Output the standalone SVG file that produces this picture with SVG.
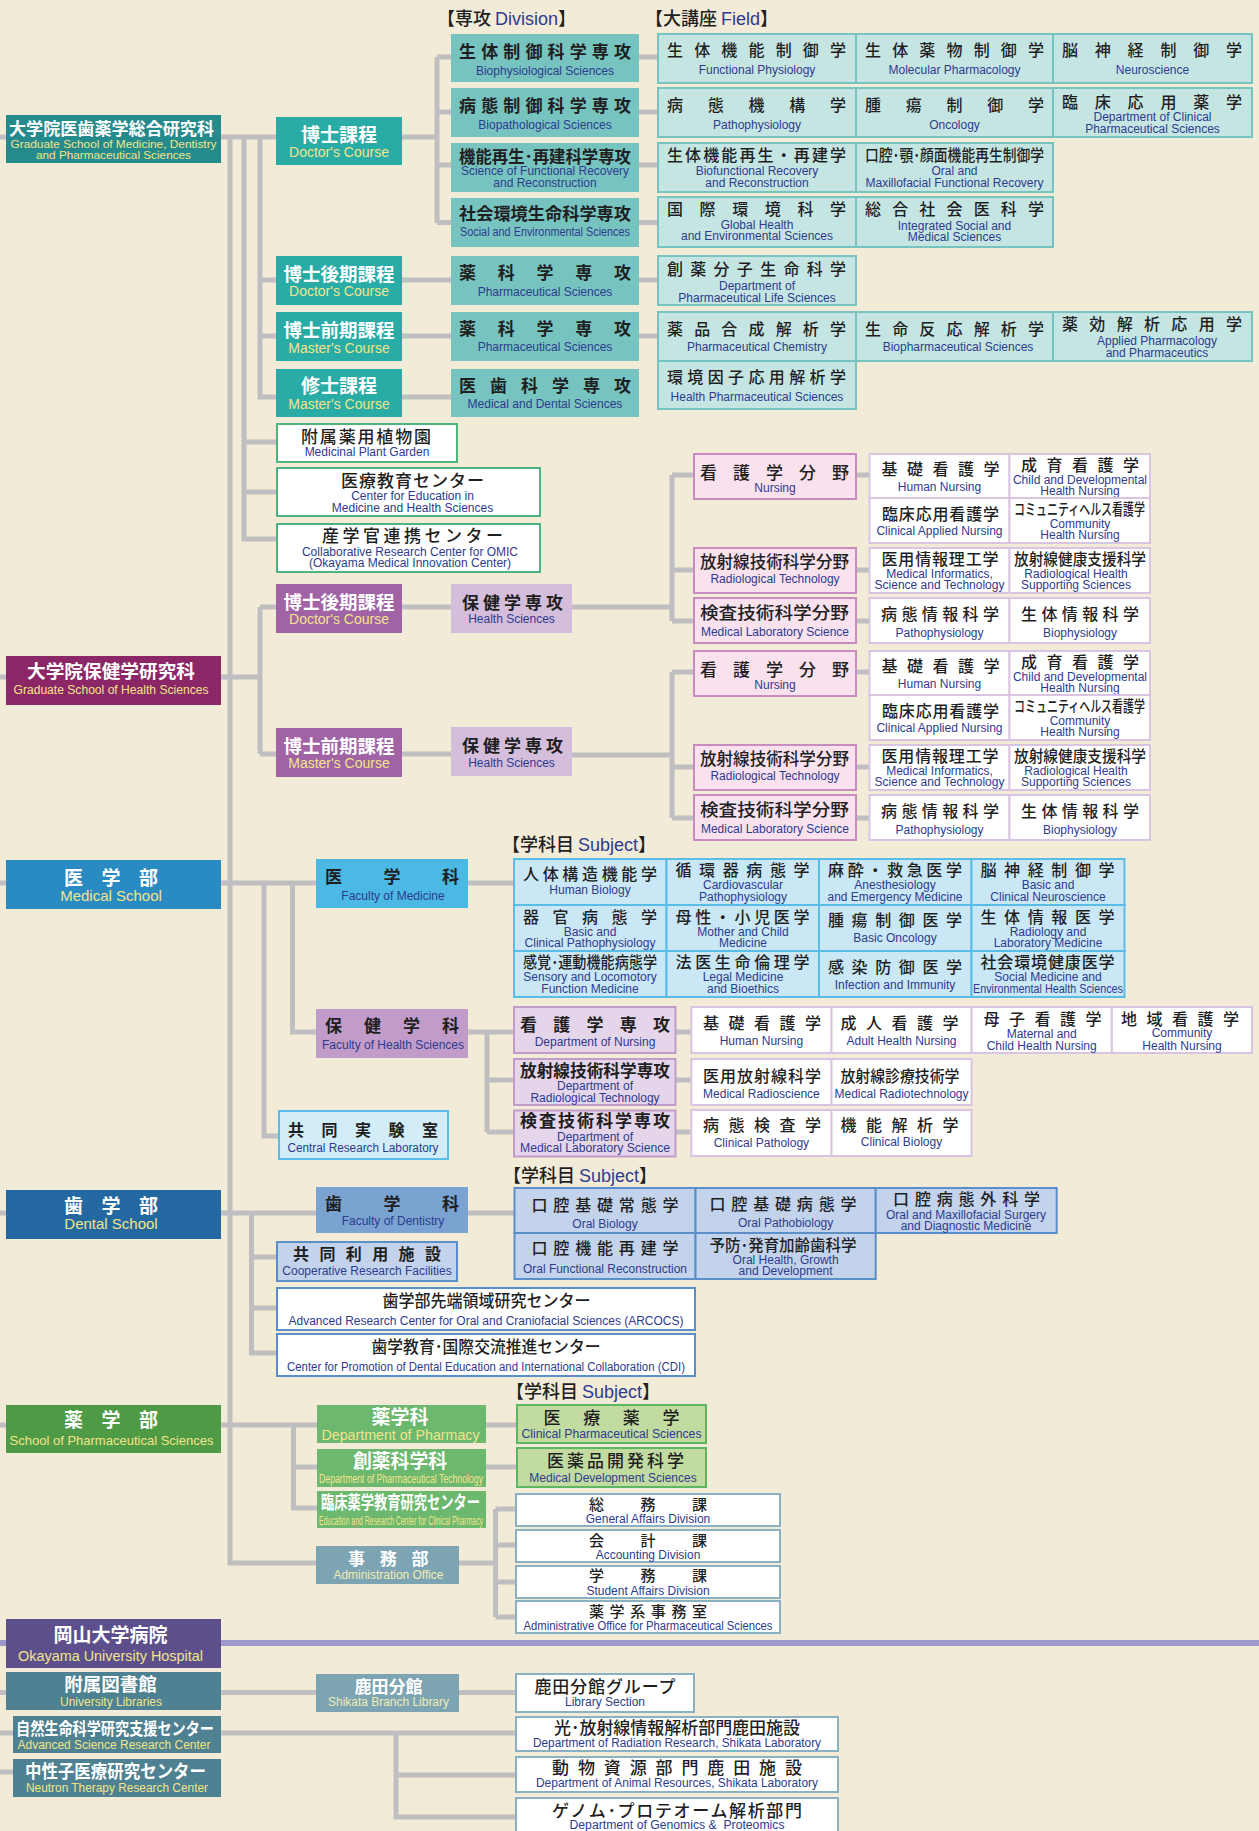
<svg xmlns="http://www.w3.org/2000/svg" width="1259" height="1831" viewBox="0 0 1259 1831">
<style>
.c{fill:none;stroke:#BFBFC1;stroke-width:5}
.jw{font-family:"Noto Sans CJK JP","Noto Sans CJK SC",sans-serif;fill:#fff;font-weight:700}
.jb{font-family:"Noto Sans CJK JP","Noto Sans CJK SC",sans-serif;fill:#1f1f1f;font-weight:700}
.jd{font-family:"Noto Sans CJK JP","Noto Sans CJK SC",sans-serif;fill:#1f1f1f;font-weight:500}
.ey{font-family:"Liberation Sans",Arial,sans-serif;fill:#F2E58A;text-anchor:middle}
.ep{font-family:"Liberation Sans",Arial,sans-serif;fill:#F1EDB4;text-anchor:middle}
.en{font-family:"Liberation Sans",Arial,sans-serif;fill:#2D3B8E;text-anchor:middle;font-size:12px}
.E{font-family:"Liberation Sans",Arial,sans-serif;fill:#2D3B8E}
.m{text-anchor:middle}
.fc{fill:#C5E5E3;stroke:#77C3C0;stroke-width:2}
.dv{fill:#77C3C0}
.gw{fill:#fff;stroke:#4DB57D;stroke-width:2}
.np{fill:#F9E1EE;stroke:#C98CBE;stroke-width:2}
.nw{fill:#fff;stroke:#D9C5E1;stroke-width:2}
.ms{fill:#C9E7F5;stroke:#5ABDE7;stroke-width:2}
.hd{fill:#E5D5EB;stroke:#C29CC9;stroke-width:2}
.ds{fill:#C3D3EB;stroke:#5B8FC9;stroke-width:2}
.dw{fill:#fff;stroke:#5B8FC9;stroke-width:2}
.ps{fill:#C1DBA1;stroke:#5DB760;stroke-width:2}
.aw{fill:#fff;stroke:#8AB0C4;stroke-width:2}
</style>
<rect x="0" y="0" width="1259" height="1831" fill="#F2EBD8"/>

<g id="connectors">
<path class="c" d="M0 137H437M437 57V223M437 57H451M437 112H451M437 165H451M437 222.5H451"/>
<path class="c" d="M638 57H658M638 112H658M638 165H658M638 222.5H658M638 280H658M638 336H658"/>
<path class="c" d="M230 137V1563H316"/>
<path class="c" d="M244 137V539H277M244 442H277M244 492H277"/>
<path class="c" d="M260 137V397H451M260 280H451M260 336H451"/>
<path class="c" d="M0 677H260M260 607V754M260 607H451M260 754H451"/>
<path class="c" d="M572 607H672M672 475V621M672 475H694M672 570H694M672 621H694M856 475H869M856 570H869M856 621H869"/>
<path class="c" d="M572 755H672M672 672V818M672 672H694M672 767H694M672 818H694M856 672H869M856 767H869M856 818H869"/>
<path class="c" d="M0 883H514M264 883V1136H279M292.5 883V1032H316"/>
<path class="c" d="M468 1032H514M487 1032V1132M487 1080H514M487 1132H514M675 1032H691M675 1080H691M675 1132H691"/>
<path class="c" d="M0 1213H514M251.5 1213V1353H277M251.5 1257H277M251.5 1308H277"/>
<path class="c" d="M0 1425H517M293.5 1425V1508H317M293.5 1467H517"/>
<path class="c" d="M459 1563H495.5M495.5 1509V1617M495.5 1509H516M495.5 1545H516M495.5 1582H516M495.5 1617H516"/>
<path class="c" d="M0 1692.5H516M0 1733H516M396 1733V1817H516M396 1775H516M0 1772H13"/>
<path d="M0 1643H1259" fill="none" stroke="#9E98CA" stroke-width="6"/>
</g>

<g id="headers">
<text class="jd" x="437" y="25" font-size="18">【専攻 <tspan class="E">Division</tspan>】</text>
<text class="jd" x="645" y="25" font-size="18">【大講座 <tspan class="E">Field</tspan>】</text>
<text class="jd" x="502" y="851" font-size="18">【学科目 <tspan class="E">Subject</tspan>】</text>
<text class="jd" x="503" y="1182" font-size="18">【学科目 <tspan class="E">Subject</tspan>】</text>
<text class="jd" x="506" y="1398" font-size="18">【学科目 <tspan class="E">Subject</tspan>】</text>
</g>

<g id="gs-mdp"><rect x="6" y="115" width="215" height="48" fill="#258A8C"/>
<text class="jw" x="9" y="134.5" font-size="17" textLength="205" lengthAdjust="spacingAndGlyphs">大学院医歯薬学総合研究科</text>
<text class="ey" x="113.5" y="148" font-size="11.5" textLength="206" lengthAdjust="spacingAndGlyphs">Graduate School of Medicine, Dentistry</text>
<text class="ey" x="113.5" y="159" font-size="11.5" textLength="155" lengthAdjust="spacingAndGlyphs">and Pharmaceutical Sciences</text></g>

<g id="course-doc"><rect x="276" y="117" width="126" height="48" fill="#29ABA6"/>
<text class="jw m" x="339" y="141.5" font-size="19">博士課程</text>
<text class="ey" x="339" y="157" font-size="14">Doctor's Course</text></g>
<g id="course-doc2"><rect x="276" y="256" width="126" height="49" fill="#29ABA6"/>
<text class="jw m" x="339" y="280.5" font-size="18.5">博士後期課程</text>
<text class="ey" x="339" y="296" font-size="14">Doctor's Course</text></g>
<g id="course-mas1"><rect x="276" y="312" width="126" height="49" fill="#29ABA6"/>
<text class="jw m" x="339" y="336.5" font-size="18.5">博士前期課程</text>
<text class="ey" x="339" y="352.5" font-size="14">Master's Course</text></g>
<g id="course-mas2"><rect x="276" y="369" width="126" height="48" fill="#29ABA6"/>
<text class="jw m" x="339" y="393" font-size="19">修士課程</text>
<text class="ey" x="339" y="408.5" font-size="14">Master's Course</text></g>

<g id="div1"><rect class="dv" x="451" y="34" width="188" height="48"/>
<text class="jb" x="459" y="57.5" font-size="17" textLength="172" lengthAdjust="spacing">生体制御科学専攻</text>
<text class="en" x="545" y="74.5">Biophysiological Sciences</text></g>
<g id="div2"><rect class="dv" x="451" y="88" width="188" height="49"/>
<text class="jb" x="459" y="111.5" font-size="17" textLength="172" lengthAdjust="spacing">病態制御科学専攻</text>
<text class="en" x="545" y="129">Biopathological Sciences</text></g>
<g id="div3"><rect class="dv" x="451" y="143" width="188" height="49"/>
<text class="jb" x="459" y="162.5" font-size="17" textLength="172" lengthAdjust="spacingAndGlyphs">機能再生･再建科学専攻</text>
<text class="en" x="545" y="175" textLength="168" lengthAdjust="spacingAndGlyphs">Science of Functional Recovery</text>
<text class="en" x="545" y="186.7">and Reconstruction</text></g>
<g id="div4"><rect class="dv" x="451" y="198" width="188" height="49"/>
<text class="jb" x="459" y="219.5" font-size="17" textLength="172" lengthAdjust="spacingAndGlyphs">社会環境生命科学専攻</text>
<text class="en" x="545" y="236" textLength="170" lengthAdjust="spacingAndGlyphs">Social and Environmental Sciences</text></g>
<g id="div5"><rect class="dv" x="451" y="256" width="188" height="49"/>
<text class="jb" x="459" y="279" font-size="17" textLength="172" lengthAdjust="spacing">薬科学専攻</text>
<text class="en" x="545" y="296">Pharmaceutical Sciences</text></g>
<g id="div6"><rect class="dv" x="451" y="312" width="188" height="49"/>
<text class="jb" x="459" y="335" font-size="17" textLength="172" lengthAdjust="spacing">薬科学専攻</text>
<text class="en" x="545" y="351">Pharmaceutical Sciences</text></g>
<g id="div7"><rect class="dv" x="451" y="369" width="188" height="48"/>
<text class="jb" x="459" y="391.5" font-size="17" textLength="172" lengthAdjust="spacing">医歯科学専攻</text>
<text class="en" x="545" y="408">Medical and Dental Sciences</text></g>

<g id="f1a"><rect class="fc" x="658" y="34" width="198" height="49"/>
<text class="jd" x="667" y="56" font-size="16" textLength="179" lengthAdjust="spacing">生体機能制御学</text>
<text class="en" x="757" y="74">Functional Physiology</text></g>
<g id="f1b"><rect class="fc" x="856" y="34" width="197" height="49"/>
<text class="jd" x="865" y="56" font-size="16" textLength="179" lengthAdjust="spacing">生体薬物制御学</text>
<text class="en" x="954.5" y="74">Molecular Pharmacology</text></g>
<g id="f1c"><rect class="fc" x="1053" y="34" width="199" height="49"/>
<text class="jd" x="1062" y="56" font-size="16" textLength="180" lengthAdjust="spacing">脳神経制御学</text>
<text class="en" x="1152.5" y="74">Neuroscience</text></g>
<g id="f2a"><rect class="fc" x="658" y="88" width="198" height="49"/>
<text class="jd" x="667" y="111" font-size="16" textLength="179" lengthAdjust="spacing">病態機構学</text>
<text class="en" x="757" y="129">Pathophysiology</text></g>
<g id="f2b"><rect class="fc" x="856" y="88" width="197" height="49"/>
<text class="jd" x="865" y="111" font-size="16" textLength="179" lengthAdjust="spacing">腫瘍制御学</text>
<text class="en" x="954.5" y="129">Oncology</text></g>
<g id="f2c"><rect class="fc" x="1053" y="88" width="199" height="49"/>
<text class="jd" x="1062" y="107.5" font-size="16" textLength="180" lengthAdjust="spacing">臨床応用薬学</text>
<text class="en" x="1152.5" y="121">Department of Clinical</text>
<text class="en" x="1152.5" y="132.5">Pharmaceutical Sciences</text></g>
<g id="f3a"><rect class="fc" x="658" y="143" width="198" height="49"/>
<text class="jd" x="667" y="161" font-size="16" textLength="179" lengthAdjust="spacing">生体機能再生・再建学</text>
<text class="en" x="757" y="175">Biofunctional Recovery</text>
<text class="en" x="757" y="186.7">and Reconstruction</text></g>
<g id="f3b"><rect class="fc" x="856" y="143" width="197" height="49"/>
<text class="jd" x="865" y="161" font-size="16" textLength="179" lengthAdjust="spacingAndGlyphs">口腔･顎･顔面機能再生制御学</text>
<text class="en" x="954.5" y="175">Oral and</text>
<text class="en" x="954.5" y="186.7" textLength="178" lengthAdjust="spacingAndGlyphs">Maxillofacial Functional Recovery</text></g>
<g id="f4a"><rect class="fc" x="658" y="197" width="198" height="50"/>
<text class="jd" x="667" y="215" font-size="16" textLength="179" lengthAdjust="spacing">国際環境科学</text>
<text class="en" x="757" y="229">Global Health</text>
<text class="en" x="757" y="240">and Environmental Sciences</text></g>
<g id="f4b"><rect class="fc" x="856" y="197" width="197" height="50"/>
<text class="jd" x="865" y="215" font-size="16" textLength="179" lengthAdjust="spacing">総合社会医科学</text>
<text class="en" x="954.5" y="229.7">Integrated Social and</text>
<text class="en" x="954.5" y="240.7">Medical Sciences</text></g>
<g id="f5a"><rect class="fc" x="658" y="256" width="198" height="49"/>
<text class="jd" x="667" y="275" font-size="16" textLength="179" lengthAdjust="spacing">創薬分子生命科学</text>
<text class="en" x="757" y="290">Department of</text>
<text class="en" x="757" y="301.7">Pharmaceutical Life Sciences</text></g>
<g id="f6a"><rect class="fc" x="658" y="312" width="198" height="49"/>
<text class="jd" x="667" y="334.5" font-size="16" textLength="179" lengthAdjust="spacing">薬品合成解析学</text>
<text class="en" x="757" y="351">Pharmaceutical Chemistry</text></g>
<g id="f6b"><rect class="fc" x="856" y="312" width="197" height="49"/>
<text class="jd" x="865" y="334.5" font-size="16" textLength="179" lengthAdjust="spacing">生命反応解析学</text>
<text class="en" x="958" y="351">Biopharmaceutical Sciences</text></g>
<g id="f6c"><rect class="fc" x="1053" y="312" width="199" height="49"/>
<text class="jd" x="1062" y="330" font-size="16" textLength="180" lengthAdjust="spacing">薬効解析応用学</text>
<text class="en" x="1157" y="345">Applied Pharmacology</text>
<text class="en" x="1157" y="356.7">and Pharmaceutics</text></g>
<g id="f7a"><rect class="fc" x="658" y="361" width="198" height="48"/>
<text class="jd" x="667" y="383" font-size="16" textLength="179" lengthAdjust="spacing">環境因子応用解析学</text>
<text class="en" x="757" y="401">Health Pharmaceutical Sciences</text></g>

<g id="garden"><rect class="gw" x="277" y="424" width="180" height="38"/>
<text class="jd" x="301" y="442.5" font-size="17" textLength="130" lengthAdjust="spacing">附属薬用植物園</text>
<text class="en" x="367" y="456">Medicinal Plant Garden</text></g>
<g id="cemhs"><rect class="gw" x="277" y="468" width="263" height="48"/>
<text class="jd" x="341" y="486.5" font-size="17" textLength="143" lengthAdjust="spacing">医療教育センター</text>
<text class="en" x="412.5" y="500">Center for Education in</text>
<text class="en" x="412.5" y="512">Medicine and Health Sciences</text></g>
<g id="omic"><rect class="gw" x="277" y="524" width="263" height="48"/>
<text class="jd" x="322" y="542" font-size="17" textLength="181" lengthAdjust="spacing">産学官連携センター</text>
<text class="en" x="410" y="555.5">Collaborative Research Center for OMIC</text>
<text class="en" x="410" y="567">(Okayama Medical Innovation Center)</text></g>

<g id="gs-hs"><rect x="6" y="656" width="215" height="49" fill="#8B2767"/>
<text class="jw" x="27" y="678" font-size="18" textLength="168" lengthAdjust="spacingAndGlyphs">大学院保健学研究科</text>
<text class="ey" x="111" y="694" font-size="12" textLength="195" lengthAdjust="spacingAndGlyphs">Graduate School of Health Sciences</text></g>
<g id="hs-doc"><rect x="276" y="584" width="126" height="49" fill="#A063A4"/>
<text class="jw m" x="339" y="609" font-size="18.5">博士後期課程</text>
<text class="ey" x="339" y="624" font-size="14">Doctor's Course</text></g>
<g id="hs-mas"><rect x="276" y="728" width="126" height="49" fill="#A063A4"/>
<text class="jw m" x="339" y="753" font-size="18.5">博士前期課程</text>
<text class="ey" x="339" y="768" font-size="14">Master's Course</text></g>
<g id="hs-div1"><rect x="451" y="584" width="121" height="49" fill="#D4BEDC"/>
<text class="jb" x="462" y="608.5" font-size="17" textLength="101" lengthAdjust="spacing">保健学専攻</text>
<text class="en" x="511.5" y="623">Health Sciences</text></g>
<g id="hs-div2"><rect x="451" y="727" width="121" height="49" fill="#D4BEDC"/>
<text class="jb" x="462" y="752" font-size="17" textLength="101" lengthAdjust="spacing">保健学専攻</text>
<text class="en" x="511.5" y="766.5">Health Sciences</text></g>

<g id="nf-d-nursing"><rect class="np" x="694" y="454" width="162" height="45"/>
<text class="jd" x="700" y="478.5" font-size="17" textLength="149" lengthAdjust="spacing">看護学分野</text>
<text class="en" x="775" y="491.5">Nursing</text></g>
<g id="nf-d-rad"><rect class="np" x="694" y="548" width="162" height="45"/>
<text class="jd" x="700" y="568" font-size="17" textLength="149" lengthAdjust="spacingAndGlyphs">放射線技術科学分野</text>
<text class="en" x="775" y="583">Radiological Technology</text></g>
<g id="nf-d-lab"><rect class="np" x="694" y="598" width="162" height="45"/>
<text class="jd" x="700" y="619" font-size="17" textLength="149" lengthAdjust="spacingAndGlyphs">検査技術科学分野</text>
<text class="en" x="775" y="635.5">Medical Laboratory Science</text></g>
<g id="ns-d-1"><rect class="nw" x="869.5" y="454" width="140" height="44"/>
<text class="jd" x="881.5" y="475" font-size="16" textLength="118" lengthAdjust="spacing">基礎看護学</text>
<text class="en" x="939.5" y="491">Human Nursing</text></g>
<g id="ns-d-2"><rect class="nw" x="1009.5" y="454" width="140.5" height="44"/>
<text class="jd" x="1021" y="470.5" font-size="16" textLength="118" lengthAdjust="spacing">成育看護学</text>
<text class="en" x="1080" y="484">Child and Developmental</text>
<text class="en" x="1080" y="494.7">Health Nursing</text></g>
<g id="ns-d-3"><rect class="nw" x="869.5" y="498" width="140" height="45"/>
<text class="jd" x="882" y="520" font-size="16" textLength="117" lengthAdjust="spacing">臨床応用看護学</text>
<text class="en" x="939.5" y="534.7">Clinical Applied Nursing</text></g>
<g id="ns-d-4"><rect class="nw" x="1009.5" y="498" width="140.5" height="45"/>
<text class="jd" x="1014" y="514.5" font-size="15.5" textLength="131" lengthAdjust="spacingAndGlyphs">コミュニティヘルス看護学</text>
<text class="en" x="1080" y="528">Community</text>
<text class="en" x="1080" y="539.3">Health Nursing</text></g>
<g id="ns-d-5"><rect class="nw" x="869.5" y="548" width="140" height="45"/>
<text class="jd" x="881.5" y="565" font-size="16" textLength="117" lengthAdjust="spacing">医用情報理工学</text>
<text class="en" x="939.5" y="577.5">Medical Informatics,</text>
<text class="en" x="939.5" y="588.5">Science and Technology</text></g>
<g id="ns-d-6"><rect class="nw" x="1009.5" y="548" width="140.5" height="45"/>
<text class="jd" x="1014" y="565" font-size="16" textLength="132" lengthAdjust="spacingAndGlyphs">放射線健康支援科学</text>
<text class="en" x="1076" y="577.5">Radiological Health</text>
<text class="en" x="1076" y="588.5">Supporting Sciences</text></g>
<g id="ns-d-7"><rect class="nw" x="869.5" y="598" width="140" height="45"/>
<text class="jd" x="881" y="619.5" font-size="16" textLength="118" lengthAdjust="spacing">病態情報科学</text>
<text class="en" x="939.5" y="636.5">Pathophysiology</text></g>
<g id="ns-d-8"><rect class="nw" x="1009.5" y="598" width="140.5" height="45"/>
<text class="jd" x="1021" y="619.5" font-size="16" textLength="118" lengthAdjust="spacing">生体情報科学</text>
<text class="en" x="1080" y="636.5">Biophysiology</text></g>

<g id="nf-m-nursing" transform="translate(0,197)"><rect class="np" x="694" y="454" width="162" height="45"/>
<text class="jd" x="700" y="478.5" font-size="17" textLength="149" lengthAdjust="spacing">看護学分野</text>
<text class="en" x="775" y="491.5">Nursing</text></g>
<g id="nf-m-rad" transform="translate(0,197)"><rect class="np" x="694" y="548" width="162" height="45"/>
<text class="jd" x="700" y="568" font-size="17" textLength="149" lengthAdjust="spacingAndGlyphs">放射線技術科学分野</text>
<text class="en" x="775" y="583">Radiological Technology</text></g>
<g id="nf-m-lab" transform="translate(0,197)"><rect class="np" x="694" y="598" width="162" height="45"/>
<text class="jd" x="700" y="619" font-size="17" textLength="149" lengthAdjust="spacingAndGlyphs">検査技術科学分野</text>
<text class="en" x="775" y="635.5">Medical Laboratory Science</text></g>
<g id="ns-m-1" transform="translate(0,197)"><rect class="nw" x="869.5" y="454" width="140" height="44"/>
<text class="jd" x="881.5" y="475" font-size="16" textLength="118" lengthAdjust="spacing">基礎看護学</text>
<text class="en" x="939.5" y="491">Human Nursing</text></g>
<g id="ns-m-2" transform="translate(0,197)"><rect class="nw" x="1009.5" y="454" width="140.5" height="44"/>
<text class="jd" x="1021" y="470.5" font-size="16" textLength="118" lengthAdjust="spacing">成育看護学</text>
<text class="en" x="1080" y="484">Child and Developmental</text>
<text class="en" x="1080" y="494.7">Health Nursing</text></g>
<g id="ns-m-3" transform="translate(0,197)"><rect class="nw" x="869.5" y="498" width="140" height="45"/>
<text class="jd" x="882" y="520" font-size="16" textLength="117" lengthAdjust="spacing">臨床応用看護学</text>
<text class="en" x="939.5" y="534.7">Clinical Applied Nursing</text></g>
<g id="ns-m-4" transform="translate(0,197)"><rect class="nw" x="1009.5" y="498" width="140.5" height="45"/>
<text class="jd" x="1014" y="514.5" font-size="15.5" textLength="131" lengthAdjust="spacingAndGlyphs">コミュニティヘルス看護学</text>
<text class="en" x="1080" y="528">Community</text>
<text class="en" x="1080" y="539.3">Health Nursing</text></g>
<g id="ns-m-5" transform="translate(0,197)"><rect class="nw" x="869.5" y="548" width="140" height="45"/>
<text class="jd" x="881.5" y="565" font-size="16" textLength="117" lengthAdjust="spacing">医用情報理工学</text>
<text class="en" x="939.5" y="577.5">Medical Informatics,</text>
<text class="en" x="939.5" y="588.5">Science and Technology</text></g>
<g id="ns-m-6" transform="translate(0,197)"><rect class="nw" x="1009.5" y="548" width="140.5" height="45"/>
<text class="jd" x="1014" y="565" font-size="16" textLength="132" lengthAdjust="spacingAndGlyphs">放射線健康支援科学</text>
<text class="en" x="1076" y="577.5">Radiological Health</text>
<text class="en" x="1076" y="588.5">Supporting Sciences</text></g>
<g id="ns-m-7" transform="translate(0,197)"><rect class="nw" x="869.5" y="598" width="140" height="45"/>
<text class="jd" x="881" y="619.5" font-size="16" textLength="118" lengthAdjust="spacing">病態情報科学</text>
<text class="en" x="939.5" y="636.5">Pathophysiology</text></g>
<g id="ns-m-8" transform="translate(0,197)"><rect class="nw" x="1009.5" y="598" width="140.5" height="45"/>
<text class="jd" x="1021" y="619.5" font-size="16" textLength="118" lengthAdjust="spacing">生体情報科学</text>
<text class="en" x="1080" y="636.5">Biophysiology</text></g>

<g id="med-school"><rect x="6" y="860" width="215" height="49" fill="#2A8BC3"/>
<text class="jw" x="64" y="885" font-size="19" textLength="94" lengthAdjust="spacing">医学部</text>
<text class="ey" x="111" y="901" font-size="15">Medical School</text></g>
<g id="fac-med"><rect x="316" y="859" width="152" height="49" fill="#4BB9E3"/>
<text class="jb" x="325" y="882.5" font-size="17" textLength="134" lengthAdjust="spacing">医学科</text>
<text class="en" x="393" y="899.5">Faculty of Medicine</text></g>
<g id="fac-hs"><rect x="316" y="1009" width="152" height="49" fill="#C29CC9"/>
<text class="jb" x="325" y="1031.5" font-size="17" textLength="134" lengthAdjust="spacing">保健学科</text>
<text class="en" x="393" y="1048.5">Faculty of Health Sciences</text></g>
<g id="crl"><rect x="279" y="1111" width="169" height="48" fill="#D2ECF8" stroke="#5ABDE7" stroke-width="2"/>
<text class="jb" x="288" y="1135.5" font-size="16" textLength="150" lengthAdjust="spacing">共同実験室</text>
<text class="en" x="363" y="1151.5" textLength="151" lengthAdjust="spacingAndGlyphs">Central Research Laboratory</text></g>

<g id="ms-1"><rect class="ms" x="514" y="859" width="152.5" height="46"/>
<text class="jd" x="523" y="880" font-size="16" textLength="134" lengthAdjust="spacing">人体構造機能学</text>
<text class="en" x="590" y="894">Human Biology</text></g>
<g id="ms-2"><rect class="ms" x="666.5" y="859" width="152.5" height="46"/>
<text class="jd" x="675.5" y="876" font-size="16" textLength="134" lengthAdjust="spacing">循環器病態学</text>
<text class="en" x="743" y="889">Cardiovascular</text>
<text class="en" x="743" y="901">Pathophysiology</text></g>
<g id="ms-3"><rect class="ms" x="819" y="859" width="152.5" height="46"/>
<text class="jd" x="828" y="876" font-size="16" textLength="134" lengthAdjust="spacing">麻酔・救急医学</text>
<text class="en" x="895" y="889">Anesthesiology</text>
<text class="en" x="895" y="901" textLength="135" lengthAdjust="spacingAndGlyphs">and Emergency Medicine</text></g>
<g id="ms-4"><rect class="ms" x="971.5" y="859" width="153" height="46"/>
<text class="jd" x="980.5" y="876" font-size="16" textLength="134" lengthAdjust="spacing">脳神経制御学</text>
<text class="en" x="1048" y="889" font-size="11.5">Basic and</text>
<text class="en" x="1048" y="901" font-size="11.5">Clinical Neuroscience</text></g>
<g id="ms-5"><rect class="ms" x="514" y="905" width="152.5" height="46"/>
<text class="jd" x="523" y="922.7" font-size="16" textLength="134" lengthAdjust="spacing">器官病態学</text>
<text class="en" x="590" y="935.7">Basic and</text>
<text class="en" x="590" y="947.3" textLength="131" lengthAdjust="spacingAndGlyphs">Clinical Pathophysiology</text></g>
<g id="ms-6"><rect class="ms" x="666.5" y="905" width="152.5" height="46"/>
<text class="jd" x="675.5" y="922.7" font-size="16" textLength="134" lengthAdjust="spacing">母性・小児医学</text>
<text class="en" x="743" y="935.7">Mother and Child</text>
<text class="en" x="743" y="947.3">Medicine</text></g>
<g id="ms-7"><rect class="ms" x="819" y="905" width="152.5" height="46"/>
<text class="jd" x="828" y="926" font-size="16" textLength="134" lengthAdjust="spacing">腫瘍制御医学</text>
<text class="en" x="895" y="941.7">Basic Oncology</text></g>
<g id="ms-8"><rect class="ms" x="971.5" y="905" width="153" height="46"/>
<text class="jd" x="980.5" y="922.7" font-size="16" textLength="134" lengthAdjust="spacing">生体情報医学</text>
<text class="en" x="1048" y="935.7">Radiology and</text>
<text class="en" x="1048" y="947.3">Laboratory Medicine</text></g>
<g id="ms-9"><rect class="ms" x="514" y="951" width="152.5" height="46"/>
<text class="jd" x="523" y="967.7" font-size="16" textLength="134" lengthAdjust="spacingAndGlyphs">感覚･運動機能病態学</text>
<text class="en" x="590" y="980.7">Sensory and Locomotory</text>
<text class="en" x="590" y="993">Function Medicine</text></g>
<g id="ms-10"><rect class="ms" x="666.5" y="951" width="152.5" height="46"/>
<text class="jd" x="675.5" y="967.7" font-size="16" textLength="134" lengthAdjust="spacing">法医生命倫理学</text>
<text class="en" x="743" y="980.7">Legal Medicine</text>
<text class="en" x="743" y="993">and Bioethics</text></g>
<g id="ms-11"><rect class="ms" x="819" y="951" width="152.5" height="46"/>
<text class="jd" x="828" y="972.7" font-size="16" textLength="134" lengthAdjust="spacing">感染防御医学</text>
<text class="en" x="895" y="989">Infection and Immunity</text></g>
<g id="ms-12"><rect class="ms" x="971.5" y="951" width="153" height="46"/>
<text class="jd" x="980.5" y="967.7" font-size="16" textLength="134" lengthAdjust="spacing">社会環境健康医学</text>
<text class="en" x="1048" y="980.7">Social Medicine and</text>
<text class="en" x="1048" y="993" textLength="150" lengthAdjust="spacingAndGlyphs">Environmental Health Sciences</text></g>

<g id="hd-1"><rect class="hd" x="514" y="1007" width="161.5" height="46"/>
<text class="jb" x="520" y="1031" font-size="17" textLength="150" lengthAdjust="spacing">看護学専攻</text>
<text class="en" x="595" y="1046">Department of Nursing</text></g>
<g id="hd-2"><rect class="hd" x="514" y="1059" width="161.5" height="46"/>
<text class="jb" x="520" y="1076.7" font-size="17" textLength="150" lengthAdjust="spacingAndGlyphs">放射線技術科学専攻</text>
<text class="en" x="595" y="1090">Department of</text>
<text class="en" x="595" y="1101.7">Radiological Technology</text></g>
<g id="hd-3"><rect class="hd" x="514" y="1110.5" width="161.5" height="46"/>
<text class="jb" x="520" y="1127" font-size="17" textLength="150" lengthAdjust="spacing">検査技術科学専攻</text>
<text class="en" x="595" y="1140.7">Department of</text>
<text class="en" x="595" y="1151.7" textLength="150" lengthAdjust="spacingAndGlyphs">Medical Laboratory Science</text></g>

<g id="hs-1"><rect class="nw" x="691.3" y="1007" width="140.2" height="46"/>
<text class="jd" x="703" y="1028.7" font-size="16" textLength="118" lengthAdjust="spacing">基礎看護学</text>
<text class="en" x="761.4" y="1045">Human Nursing</text></g>
<g id="hs-2"><rect class="nw" x="831.5" y="1007" width="140.1" height="46"/>
<text class="jd" x="840.5" y="1028.7" font-size="16" textLength="118" lengthAdjust="spacing">成人看護学</text>
<text class="en" x="901.5" y="1045">Adult Health Nursing</text></g>
<g id="hs-3"><rect class="nw" x="971.6" y="1007" width="140.2" height="46"/>
<text class="jd" x="983.5" y="1024.7" font-size="16" textLength="118" lengthAdjust="spacing">母子看護学</text>
<text class="en" x="1041.7" y="1037.7">Maternal and</text>
<text class="en" x="1041.7" y="1050">Child Health Nursing</text></g>
<g id="hs-4"><rect class="nw" x="1111.8" y="1007" width="140.2" height="46"/>
<text class="jd" x="1121" y="1024.7" font-size="16" textLength="118" lengthAdjust="spacing">地域看護学</text>
<text class="en" x="1182" y="1037">Community</text>
<text class="en" x="1182" y="1049.5">Health Nursing</text></g>
<g id="hs-5"><rect class="nw" x="691.3" y="1059" width="140.2" height="46"/>
<text class="jd" x="703" y="1082" font-size="16" textLength="118" lengthAdjust="spacing">医用放射線科学</text>
<text class="en" x="761.4" y="1098">Medical Radioscience</text></g>
<g id="hs-6"><rect class="nw" x="831.5" y="1059" width="140.1" height="46"/>
<text class="jd" x="840.5" y="1082" font-size="16" textLength="119" lengthAdjust="spacingAndGlyphs">放射線診療技術学</text>
<text class="en" x="901.5" y="1098" textLength="134" lengthAdjust="spacingAndGlyphs">Medical Radiotechnology</text></g>
<g id="hs-7"><rect class="nw" x="691.3" y="1110" width="140.2" height="46"/>
<text class="jd" x="703" y="1130.7" font-size="16" textLength="118" lengthAdjust="spacing">病態検査学</text>
<text class="en" x="761.4" y="1146.7">Clinical Pathology</text></g>
<g id="hs-8"><rect class="nw" x="831.5" y="1110" width="140.1" height="46"/>
<text class="jd" x="840.5" y="1130.7" font-size="16" textLength="118" lengthAdjust="spacing">機能解析学</text>
<text class="en" x="901.5" y="1146">Clinical Biology</text></g>

<g id="dent-school"><rect x="6" y="1190" width="215" height="49" fill="#2468A1"/>
<text class="jw" x="64" y="1212.5" font-size="19" textLength="94" lengthAdjust="spacing">歯学部</text>
<text class="ey" x="111" y="1229" font-size="15">Dental School</text></g>
<g id="fac-dent"><rect x="316" y="1187" width="152" height="46" fill="#7AA3D1"/>
<text class="jb" x="325" y="1209.5" font-size="17" textLength="134" lengthAdjust="spacing">歯学科</text>
<text class="en" x="393" y="1224.5">Faculty of Dentistry</text></g>
<g id="crf"><rect class="ds" x="277" y="1242" width="180" height="39"/>
<text class="jb" x="293" y="1259.5" font-size="16" textLength="148" lengthAdjust="spacing">共同利用施設</text>
<text class="en" x="367" y="1275">Cooperative Research Facilities</text></g>
<g id="arcocs"><rect class="dw" x="277" y="1288" width="418" height="42"/>
<text class="jd" x="382.5" y="1307" font-size="16.5" textLength="208" lengthAdjust="spacingAndGlyphs">歯学部先端領域研究センター</text>
<text class="en" x="486" y="1324.5" font-size="11.5" textLength="395" lengthAdjust="spacingAndGlyphs">Advanced Research Center for Oral and Craniofacial Sciences (ARCOCS)</text></g>
<g id="cdi"><rect class="dw" x="277" y="1334" width="418" height="42"/>
<text class="jd" x="371.5" y="1353" font-size="16.5" textLength="229" lengthAdjust="spacingAndGlyphs">歯学教育･国際交流推進センター</text>
<text class="en" x="486" y="1370.5" font-size="11.5" textLength="398" lengthAdjust="spacingAndGlyphs">Center for Promotion of Dental Education and International Collaboration (CDI)</text></g>

<g id="dsub-1"><rect class="ds" x="514.5" y="1188" width="181" height="45"/>
<text class="jd" x="531.5" y="1211" font-size="16" textLength="147" lengthAdjust="spacing">口腔基礎常態学</text>
<text class="en" x="605" y="1228">Oral Biology</text></g>
<g id="dsub-2"><rect class="ds" x="695.5" y="1188" width="180.2" height="45"/>
<text class="jd" x="709.5" y="1209.5" font-size="16" textLength="147" lengthAdjust="spacing">口腔基礎病態学</text>
<text class="en" x="785.6" y="1226.7">Oral Pathobiology</text></g>
<g id="dsub-3"><rect class="ds" x="875.7" y="1188" width="181" height="45"/>
<text class="jd" x="893" y="1204.5" font-size="16" textLength="147" lengthAdjust="spacing">口腔病態外科学</text>
<text class="en" x="966" y="1219">Oral and Maxillofacial Surgery</text>
<text class="en" x="966" y="1230">and Diagnostic Medicine</text></g>
<g id="dsub-4"><rect class="ds" x="514.5" y="1233" width="181" height="46"/>
<text class="jd" x="531.5" y="1253.5" font-size="16" textLength="147" lengthAdjust="spacing">口腔機能再建学</text>
<text class="en" x="605" y="1273" textLength="164" lengthAdjust="spacingAndGlyphs">Oral Functional Reconstruction</text></g>
<g id="dsub-5"><rect class="ds" x="695.5" y="1233" width="180.2" height="46"/>
<text class="jd" x="709.5" y="1251" font-size="16" textLength="147" lengthAdjust="spacingAndGlyphs">予防･発育加齢歯科学</text>
<text class="en" x="785.6" y="1264">Oral Health, Growth</text>
<text class="en" x="785.6" y="1274.7">and Development</text></g>

<g id="pharm-school"><rect x="6" y="1405" width="215" height="48" fill="#4E9A45"/>
<text class="jw" x="64" y="1426.5" font-size="19" textLength="94" lengthAdjust="spacing">薬学部</text>
<text class="ey" x="111.5" y="1445" font-size="13" textLength="204" lengthAdjust="spacingAndGlyphs">School of Pharmaceutical Sciences</text></g>
<g id="dept-pharmacy"><rect x="317" y="1405" width="169" height="38" fill="#6CB86F"/>
<text class="jw m" x="400" y="1424" font-size="19">薬学科</text>
<text class="ey" x="400.5" y="1440" font-size="14" textLength="158" lengthAdjust="spacingAndGlyphs">Department of Pharmacy</text></g>
<g id="dept-pharmtech"><rect x="317" y="1449" width="169" height="38" fill="#6CB86F"/>
<text class="jw m" x="400" y="1468" font-size="19" textLength="94" lengthAdjust="spacingAndGlyphs">創薬科学科</text>
<text class="ey" x="401" y="1483" font-size="12.5" textLength="164" lengthAdjust="spacingAndGlyphs">Department of Pharmaceutical Technology</text></g>
<g id="crcp"><rect x="317" y="1491" width="169" height="37" fill="#6CB86F"/>
<text class="jw" x="321" y="1508.5" font-size="18" textLength="159" lengthAdjust="spacingAndGlyphs">臨床薬学教育研究センター</text>
<text class="ey" x="401" y="1525" font-size="12" textLength="164" lengthAdjust="spacingAndGlyphs">Education and Research Center for Clinical Pharmacy</text></g>
<g id="psub-1"><rect class="ps" x="517" y="1405" width="189" height="38"/>
<text class="jd" x="543.5" y="1423.5" font-size="17" textLength="136" lengthAdjust="spacing">医療薬学</text>
<text class="en" x="611.5" y="1438" textLength="180" lengthAdjust="spacingAndGlyphs">Clinical Pharmaceutical Sciences</text></g>
<g id="psub-2"><rect class="ps" x="517" y="1448" width="189" height="39"/>
<text class="jd" x="547" y="1467" font-size="17" textLength="137" lengthAdjust="spacing">医薬品開発科学</text>
<text class="en" x="613" y="1481.5">Medical Development Sciences</text></g>

<g id="admin"><rect x="316" y="1546" width="143" height="38" fill="#7DA4B2"/>
<text class="jw" x="348" y="1565" font-size="17" textLength="80.5" lengthAdjust="spacing">事務部</text>
<text class="ep" x="388.5" y="1578.5" font-size="12.5" textLength="110" lengthAdjust="spacingAndGlyphs">Administration Office</text></g>
<g id="adm-1"><rect class="aw" x="516" y="1494" width="264" height="32"/>
<text class="jd" x="589" y="1509.5" font-size="15" textLength="118" lengthAdjust="spacing">総務課</text>
<text class="en" x="648" y="1522.5">General Affairs Division</text></g>
<g id="adm-2"><rect class="aw" x="516" y="1530" width="264" height="32"/>
<text class="jd" x="589" y="1545.5" font-size="15" textLength="118" lengthAdjust="spacing">会計課</text>
<text class="en" x="648" y="1558.5">Accounting Division</text></g>
<g id="adm-3"><rect class="aw" x="516" y="1566" width="264" height="32"/>
<text class="jd" x="589" y="1581" font-size="15" textLength="118" lengthAdjust="spacing">学務課</text>
<text class="en" x="648" y="1595">Student Affairs Division</text></g>
<g id="adm-4"><rect class="aw" x="516" y="1601" width="264" height="32"/>
<text class="jd" x="589" y="1617" font-size="15" textLength="118" lengthAdjust="spacing">薬学系事務室</text>
<text class="en" x="648" y="1629.5" font-size="11" textLength="249" lengthAdjust="spacingAndGlyphs">Administrative Office for Pharmaceutical Sciences</text></g>

<g id="hospital"><rect x="6" y="1619" width="215" height="49" fill="#5C4F8C"/>
<text class="jw m" x="110.5" y="1642" font-size="19">岡山大学病院</text>
<text class="ey" x="110.5" y="1660.5" font-size="14.5" textLength="185" lengthAdjust="spacingAndGlyphs">Okayama University Hospital</text></g>
<g id="library"><rect x="6" y="1672" width="215" height="38" fill="#4E8191"/>
<text class="jw m" x="110.5" y="1691" font-size="18.5">附属図書館</text>
<text class="ey" x="111" y="1705.5" font-size="12.5" textLength="102" lengthAdjust="spacingAndGlyphs">University Libraries</text></g>
<g id="asrc"><rect x="13" y="1716" width="208" height="37" fill="#4E8191"/>
<text class="jw" x="16" y="1735" font-size="17" textLength="198" lengthAdjust="spacingAndGlyphs">自然生命科学研究支援センター</text>
<text class="ey" x="114" y="1749" font-size="12.5" textLength="193" lengthAdjust="spacingAndGlyphs">Advanced Science Research Center</text></g>
<g id="neutron"><rect x="13" y="1759" width="208" height="38" fill="#4E8191"/>
<text class="jw" x="25" y="1778" font-size="18" textLength="181" lengthAdjust="spacingAndGlyphs">中性子医療研究センター</text>
<text class="ey" x="117" y="1791.5" font-size="12.5" textLength="182" lengthAdjust="spacingAndGlyphs">Neutron Therapy Research Center</text></g>
<g id="shikata-lib"><rect x="316" y="1674" width="143" height="38" fill="#7DA4B2"/>
<text class="jw m" x="388.5" y="1693" font-size="17">鹿田分館</text>
<text class="ep" x="388.5" y="1706" font-size="12" textLength="121" lengthAdjust="spacingAndGlyphs">Shikata Branch Library</text></g>
<g id="lib-section"><rect class="aw" x="516" y="1674" width="178" height="38"/>
<text class="jd" x="534.5" y="1692.5" font-size="17" textLength="141" lengthAdjust="spacing">鹿田分館グループ</text>
<text class="en" x="605" y="1706">Library Section</text></g>
<g id="radiation"><rect class="aw" x="516" y="1717" width="322" height="34"/>
<text class="jd" x="554" y="1734" font-size="17" textLength="246" lengthAdjust="spacing">光･放射線情報解析部門鹿田施設</text>
<text class="en" x="677" y="1746.5" font-size="11.5" textLength="288" lengthAdjust="spacingAndGlyphs">Department of Radiation Research, Shikata Laboratory</text></g>
<g id="animal"><rect class="aw" x="516" y="1757" width="322" height="35"/>
<text class="jd" x="552" y="1774" font-size="17" textLength="250" lengthAdjust="spacing">動物資源部門鹿田施設</text>
<text class="en" x="677" y="1787" font-size="11.5" textLength="282" lengthAdjust="spacingAndGlyphs">Department of Animal Resources, Shikata Laboratory</text></g>
<g id="genomics"><rect class="aw" x="516" y="1798" width="322" height="40"/>
<text class="jd" x="552" y="1816.5" font-size="17" textLength="250" lengthAdjust="spacing">ゲノム･プロテオーム解析部門</text>
<text class="en" x="677" y="1829" font-size="11.5" textLength="215" lengthAdjust="spacingAndGlyphs">Department of Genomics &amp;&#160; Proteomics</text></g>
</svg>
